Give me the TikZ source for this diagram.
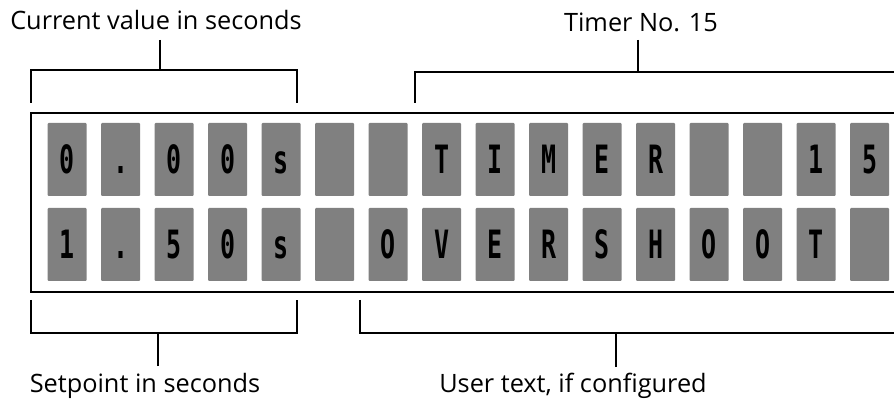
\documentclass[tikz,border=0pt]{standalone}
\usepackage{fontspec}
\setmainfont{Open Sans}
\newfontfamily\lcdfont{DejaVu Sans Mono}
\begin{document}
\begin{tikzpicture}[x=1pt,y=-1pt,
  label text/.style={font=\fontsize{25.3}{27}\selectfont, anchor=base, inner sep=0pt},
  cell/.style={fill=black!50, minimum width=39pt, minimum height=73pt, inner sep=0pt,
    rounded corners=1pt, font=\lcdfont\bfseries\fontsize{39}{39}\selectfont},
  bracket/.style={line width=1.3pt},
  frame/.style={line width=1.8pt}]
\useasboundingbox (0,0) rectangle (894,403);

% display frame (right side continues past the edge)
\coordinate (fTR) at (900,113);
\coordinate (fTL) at (31,113);
\coordinate (fBL) at (31,292);
\coordinate (fBR) at (900,292);
\begin{scope}
  \clip (0,0) rectangle (894,403);
  \draw[frame] (fTR) -- (fTL) -- (fBL) -- (fBR);
\end{scope}

% character cells, two rows of sixteen
\def\rowA{{"0",".","0","0","s"," "," ","T","I","M","E","R"," "," ","1","5"}}
\def\rowB{{"1",".","5","0","s"," ","O","V","E","R","S","H","O","O","T"," "}}
\foreach \i in {0,...,15}{
  \pgfmathsetmacro\cx{67.2+53.5*\i}
  \pgfmathparse{\rowA[\i]}\let\ca\pgfmathresult
  \pgfmathparse{\rowB[\i]}\let\cb\pgfmathresult
  \node[cell] (a\i) at (\cx,159.5) {\scalebox{0.64}[1]{\vphantom{0}\ca}};
  \node[cell] (b\i) at (\cx,244.5) {\scalebox{0.64}[1]{\vphantom{0}\cb}};
}

% labels
\node[label text] (cur) at (156,30) {Current value in seconds};
\node[label text] (tim) at (641,32) {Timer No. 15};
\node[label text] (set) at (145,392) {Setpoint in seconds};
\node[label text] (usr) at (573,392) {User text, if configured};

% upper brackets
\coordinate (curS) at (160,40);
\coordinate (curM) at (160,70);
\draw[bracket] (curS) -- (curM);
\draw[bracket] (31,103) -- (31,70) -- (297,70) -- (297,103);

\coordinate (timS) at (638,40);
\coordinate (timM) at (638,72);
\draw[bracket] (timS) -- (timM);
\draw[bracket] (415,103) -- (415,72) -- (894,72);

% lower brackets
\coordinate (setS) at (158,366);
\coordinate (setM) at (158,333);
\draw[bracket] (setS) -- (setM);
\draw[bracket] (31,300) -- (31,333) -- (297,333) -- (297,300);

\coordinate (usrS) at (616,367);
\coordinate (usrM) at (616,333);
\draw[bracket] (usrS) -- (usrM);
\draw[bracket] (360,300) -- (360,333) -- (894,333);
\end{tikzpicture}
\end{document}
